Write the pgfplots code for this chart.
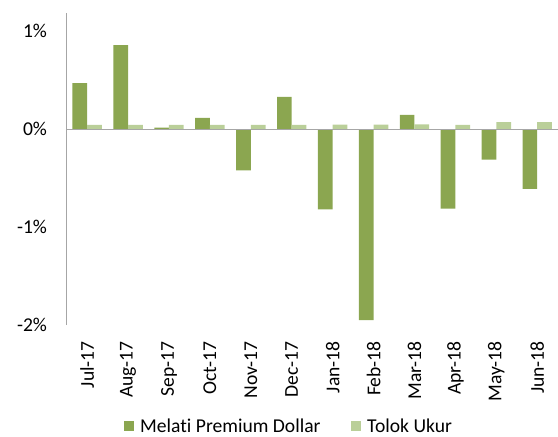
\documentclass[border=0pt]{standalone}
\usepackage{pgfplots}
\pgfplotsset{compat=1.18}
\usepackage{fontspec}
\setmainfont{Carlito}[Ligatures={NoCommon}]
\definecolor{darkg}{RGB}{139,166,80}
\definecolor{lightg}{RGB}{186,207,153}
\definecolor{axgray}{RGB}{166,166,166}
\begin{document}
\begin{tikzpicture}
\begin{axis}[
  at={(0pt,0pt)}, anchor=south west,
  scale only axis, width=491pt, height=312.3pt,
  ybar=0pt, bar width=14.7pt,
  xmin=-0.5, xmax=11.5, ymin=-2, ymax=1.19,
  enlargelimits=false,
  axis on top,
  axis lines*=left,
  axis line style={-},
  x axis line style={draw=none},
  y axis line style={draw=axgray, line width=1pt},
  major tick length=0pt,
  xtick={0,...,11},
  xticklabels={Jul-17,Aug-17,Sep-17,Oct-17,Nov-17,Dec-17,Jan-18,Feb-18,Mar-18,Apr-18,May-18,Jun-18},
  xticklabel style={rotate=90, anchor=east, inner sep=0pt},
  xticklabel shift=16pt,
  ytick={-2,-1,0,1},
  yticklabels={-2\%,-1\%,0\%,1\%},
  yticklabel style={anchor=east, inner sep=0pt},
  yticklabel shift=19.5pt,
  every tick label/.append style={font=\fontsize{19.6}{22}\selectfont, text=black},
  extra y ticks={0},
  extra y tick labels={},
  extra y tick style={grid=major, major grid style={draw=axgray, line width=1.4pt}},
  legend style={at={(0.1153,-0.325)}, anchor=west, draw=none, inner sep=0pt,
    legend columns=-1, font=\fontsize{19.6}{22}\selectfont,
    nodes={inner sep=0pt},
    /tikz/every odd column/.append style={column sep=6.7pt},
    /tikz/every even column/.append style={column sep=30pt}},
  legend image code/.code={\fill[#1] (0pt,-5pt) rectangle (10pt,5pt);},
]
\addplot[fill=darkg, draw=none] coordinates {
(0,0.47) (1,0.86) (2,0.016) (3,0.115) (4,-0.42) (5,0.33)
(6,-0.82) (7,-1.95) (8,0.146) (9,-0.81) (10,-0.31) (11,-0.61)};
\addplot[fill=lightg, draw=none] coordinates {
(0,0.044) (1,0.044) (2,0.044) (3,0.044) (4,0.044) (5,0.044)
(6,0.047) (7,0.047) (8,0.05) (9,0.044) (10,0.072) (11,0.072)};
\legend{Melati Premium Dollar, Tolok Ukur}
\end{axis}
\pgfresetboundingbox
\path[use as bounding box] (-66.7pt,-112pt) rectangle (491.3pt,325pt);
\end{tikzpicture}
\end{document}
